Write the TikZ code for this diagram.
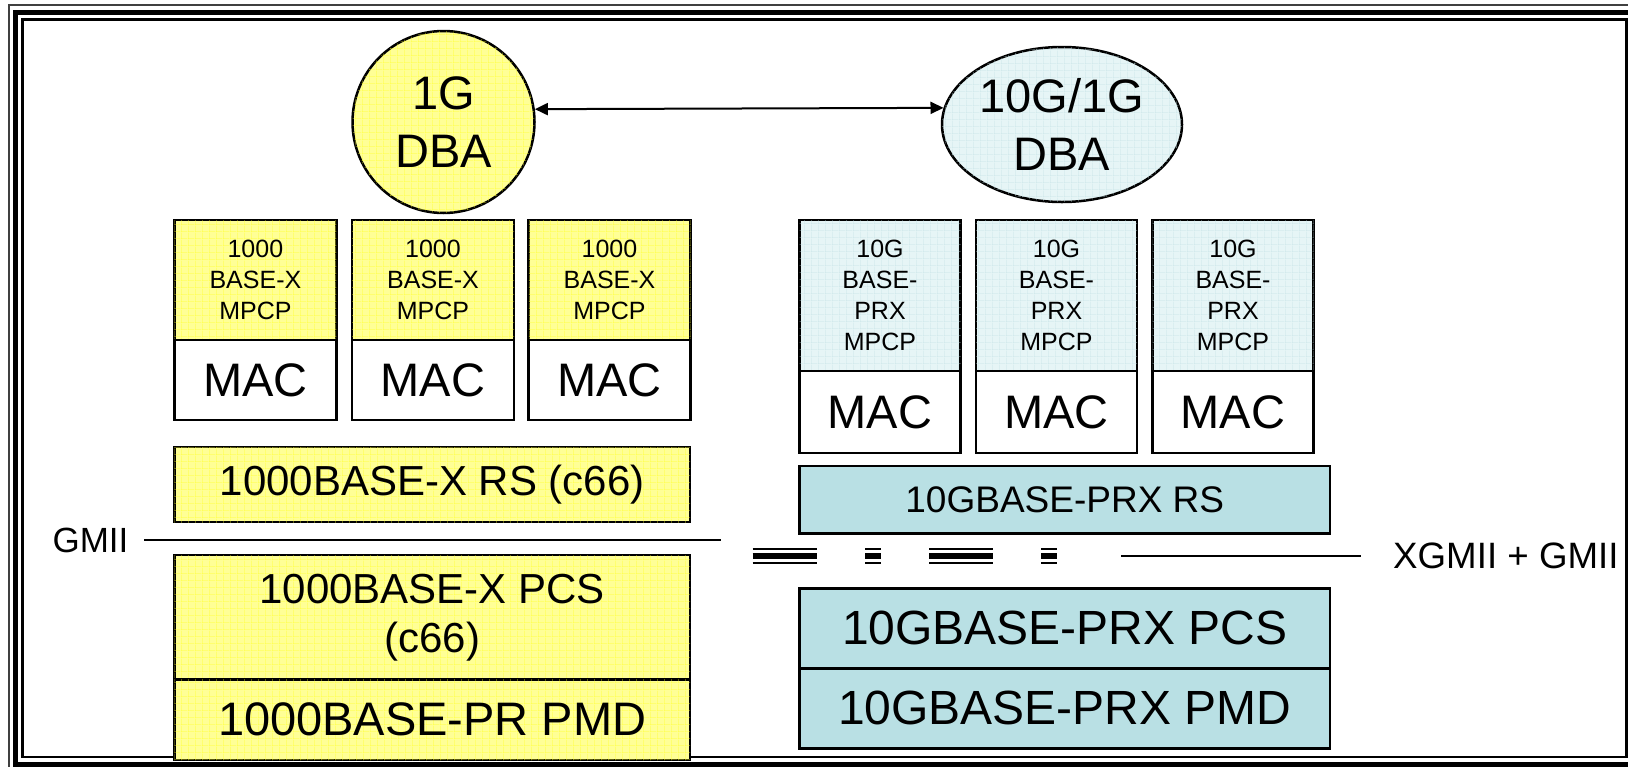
\documentclass[tikz,border=0pt]{standalone}
\usepackage{fontspec}
\setmainfont{Liberation Sans}
\usetikzlibrary{arrows.meta,shapes.geometric,patterns.meta}
\definecolor{yel}{RGB}{255,255,150}
\definecolor{yelline}{RGB}{255,255,40}
\definecolor{cyl}{RGB}{230,245,246}
\definecolor{cylline}{RGB}{196,226,230}
\definecolor{cys}{RGB}{185,224,228}
\tikzdeclarepattern{
  name=gridtex, type=uncolored,
  bounding box={(0pt,0pt) and (6.7pt,6.7pt)},
  tile size={(6.7pt,6.7pt)},
  line width=1.4pt,
  code={\draw (0pt,0pt) -- (6.7pt,0pt); \draw (0pt,0pt) -- (0pt,6.7pt);}
}
\begin{document}
\begin{tikzpicture}[x=1pt,y=-1pt,
  bx/.style={draw=black,line width=2.5pt,rectangle,inner sep=0pt,outer sep=0pt,align=center},
  fy/.style={fill=yel, postaction={pattern=gridtex, pattern color=yelline}},
  fc/.style={fill=cyl, postaction={pattern=gridtex, pattern color=cylline}},
  fs/.style={fill=cys},
  small/.style={font=\fontsize{25}{31}\selectfont},
  big/.style={font=\fontsize{47}{58}\selectfont},
  mid/.style={font=\fontsize{42}{49}\selectfont},
  dblarrow/.style={{Triangle[length=13pt,width=12pt]}-{Triangle[length=13pt,width=12pt]}, line width=2pt},
  dbl/.style={line width=#1, dash pattern=on 64pt off 48.3pt on 16pt off 48pt}
]
\useasboundingbox (0,0) rectangle (1628,766);
\clip (0,0) rectangle (1628,766);
\fill[white] (0,0) rectangle (1628,766);
% frame
\draw[line width=2pt, black!75] (9,5.3) rectangle (1642,771);
\draw[line width=5pt] (15,12.3) rectangle (1634,764.5);
\draw[line width=2.5pt] (22.6,19.6) rectangle (1626.5,757);

% DBAs
\node[draw,line width=2.5pt,circle,fy,minimum size=182pt,inner sep=0pt,align=center,big] (dba1) at (443.5,122) {1G\\DBA};
\node[draw,line width=2.5pt,ellipse,fc,minimum width=240pt,minimum height=155pt,inner sep=0pt,align=center,big] (dba2) at (1062,124.5) {10G/1G\\DBA};
\draw[dblarrow] (dba1.8.8) -- (dba2.172);

% left MPCP/MAC stacks
\foreach \i/\cx in {1/255.4, 2/433, 3/609.5} {
  \node[bx,fy,small,minimum width=162pt,minimum height=120pt] (lm\i) at (\cx,280) {1000\\BASE-X\\MPCP};
  \node[bx,fill=white,big,minimum width=162pt,minimum height=80pt] (lmac\i) at (\cx,380) {MAC};
}
% right MPCP/MAC stacks
\foreach \i/\cx in {1/880, 2/1056.5, 3/1233} {
  \node[bx,fc,small,minimum width=161pt,minimum height=151pt] (rm\i) at (\cx,295.5) {10G\\BASE-\\PRX\\MPCP};
  \node[bx,fill=white,big,minimum width=161pt,minimum height=82pt] (rmac\i) at (\cx,412) {MAC};
}

% left PHY
\node[bx,fy,mid,minimum width=515.6pt,minimum height=75pt] (lrs) at (432.2,484.5) {1000BASE-X RS (c66)};
\node[bx,fy,mid,minimum width=515.6pt,minimum height=124.5pt] (lpcs) at (432.2,617.25) {1000BASE-X PCS\\(c66)};
\node[bx,fy,font=\fontsize{47}{56}\selectfont,minimum width=515.6pt,minimum height=80.5pt] (lpmd) at (432.2,719.75) {1000BASE-PR PMD};

% right PHY
\node[bx,fs,font=\fontsize{37}{44}\selectfont,minimum width=530.5pt,minimum height=67.3pt] (rrs) at (1064.75,499.6) {10GBASE-PRX RS};
\node[bx,fs,font=\fontsize{48}{56}\selectfont,minimum width=530.5pt,minimum height=80pt] (rpcs) at (1064.75,628.3) {10GBASE-PRX PCS};
\node[bx,fs,font=\fontsize{48}{56}\selectfont,minimum width=530.5pt,minimum height=80pt] (rpmd) at (1064.75,708.3) {10GBASE-PRX PMD};

% interfaces
\node[font=\fontsize{35}{42}\selectfont,inner sep=0pt] (gmii) at (90.5,540.7) {GMII};
\coordinate (g1) at (144,540);
\coordinate (g2) at (721,540);
\draw[line width=2pt] (g1) -- (g2);

\coordinate (d1) at (752.7,549);
\coordinate (d2) at (1060,549);
\coordinate (d3) at (752.7,556.2);
\coordinate (d4) at (1060,556.2);
\coordinate (d5) at (752.7,563.3);
\coordinate (d6) at (1060,563.3);
\draw[dbl=2pt] (d1) -- (d2);
\draw[dbl=5.8pt] (d3) -- (d4);
\draw[dbl=2pt] (d5) -- (d6);

\coordinate (x1) at (1121,556);
\coordinate (x2) at (1361,556);
\draw[line width=2pt] (x1) -- (x2);
\node[font=\fontsize{36.7}{44}\selectfont,inner sep=0pt,anchor=west] (xgmii) at (1393,555.5) {XGMII + GMII};
\end{tikzpicture}
\end{document}
